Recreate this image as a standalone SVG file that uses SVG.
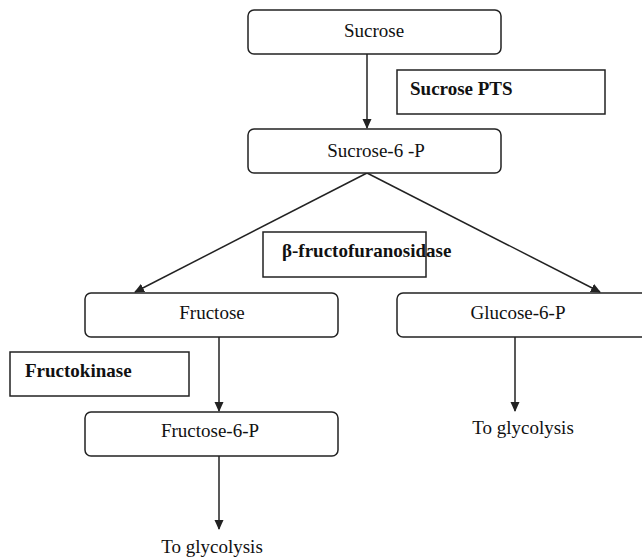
<svg xmlns="http://www.w3.org/2000/svg" width="642" height="557" viewBox="0 0 642 557">
<style>
.node{fill:#fff;stroke:#222;stroke-width:1.5}
.lab{fill:#fff;stroke:#222;stroke-width:1.5}
text{font-family:'Liberation Serif','Times New Roman',serif;font-size:19px;fill:#111}
.c{text-anchor:middle}
.b{font-weight:bold}
.edge{stroke:#222;stroke-width:1.5;fill:none;marker-end:url(#ah)}
</style>
<defs>
<marker id="ah" markerWidth="10" markerHeight="10" refX="9" refY="5" orient="auto" markerUnits="userSpaceOnUse">
<path d="M0,0.5 L10,5 L0,9.5 Z" fill="#222"/>
</marker>
</defs>
<rect width="642" height="557" fill="#fff"/>
<g id="connectors">
<line class="edge" x1="367" y1="54" x2="367" y2="128"/>
<line class="edge" x1="367" y1="173" x2="135" y2="292"/>
<line class="edge" x1="367" y1="173" x2="600" y2="292"/>
<line class="edge" x1="219" y1="337" x2="219" y2="411"/>
<line class="edge" x1="515" y1="337" x2="515" y2="411"/>
<line class="edge" x1="219" y1="456" x2="219" y2="529"/>
</g>
<g id="sucrose">
<rect class="node" x="248" y="10" width="253" height="44" rx="6"/>
<text class="c" x="374" y="37" font-family="Liberation Serif, serif">Sucrose</text>
</g>
<g id="sucrose-pts">
<rect class="lab" x="397" y="70" width="208" height="44"/>
<text class="b" x="410" y="95" font-family="Liberation Serif, serif">Sucrose PTS</text>
</g>
<g id="sucrose-6-p">
<rect class="node" x="248" y="129" width="253" height="44" rx="6"/>
<text class="c" x="376" y="157" font-family="Liberation Serif, serif">Sucrose-6 -P</text>
</g>
<g id="fructofuranosidase">
<rect class="lab" x="263" y="232" width="163" height="45"/>
<text class="b" x="282" y="257" font-family="Liberation Serif, serif">β-fructofuranosidase</text>
</g>
<g id="fructose">
<rect class="node" x="85" y="293" width="253" height="44" rx="6"/>
<text class="c" x="212" y="319" font-family="Liberation Serif, serif">Fructose</text>
</g>
<g id="glucose-6-p">
<rect class="node" x="397" y="293" width="253" height="44" rx="6"/>
<text class="c" x="518" y="319" font-family="Liberation Serif, serif">Glucose-6-P</text>
</g>
<g id="fructokinase">
<rect class="lab" x="10" y="352" width="179" height="44"/>
<text class="b" x="25" y="377" font-family="Liberation Serif, serif">Fructokinase</text>
</g>
<g id="fructose-6-p">
<rect class="node" x="85" y="412" width="253" height="44" rx="6"/>
<text class="c" x="210" y="437" font-family="Liberation Serif, serif">Fructose-6-P</text>
</g>
<g id="to-glycolysis-1">
<text class="c" x="212" y="553" font-family="Liberation Serif, serif">To glycolysis</text>
</g>
<g id="to-glycolysis-2">
<text class="c" x="523" y="434" font-family="Liberation Serif, serif">To glycolysis</text>
</g>
</svg>
